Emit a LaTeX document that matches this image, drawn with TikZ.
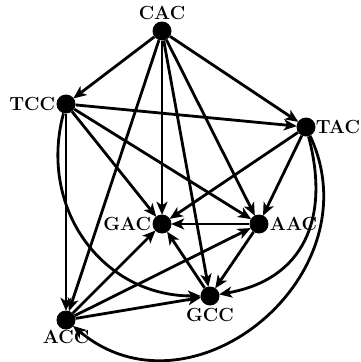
\documentclass[tikz,border=0pt]{standalone}
\usetikzlibrary{arrows.meta}
\begin{document}
\begin{tikzpicture}[x=1pt,y=-1pt,
  vtx/.style={circle,fill=black,draw=none,minimum size=19pt,inner sep=0pt},
  lbl/.style={inner sep=0pt,label distance=1pt,font=\fontsize{19}{22}\selectfont\bfseries},
  arr/.style={line width=2.8pt,-{Stealth[length=13pt,width=11pt,inset=3.5pt]},shorten >=-0.5pt}]
\useasboundingbox (0,0) rectangle (361,362);
\node[vtx,label={[lbl]above:CAC}] (CAC) at (162,31) {};
\node[vtx,label={[lbl]left:TCC}] (TCC) at (66,104) {};
\node[vtx,label={[lbl,label distance=0pt]right:TAC}] (TAC) at (306,127) {};
\node[vtx,label={[lbl]left:GAC}] (GAC) at (162,224) {};
\node[vtx,label={[lbl]right:AAC}] (AAC) at (259,224) {};
\node[vtx,label={[lbl,label distance=2pt]below:GCC}] (GCC) at (210,296) {};
\node[vtx,label={[lbl,label distance=0pt]below:ACC}] (ACC) at (66,320) {};
\draw[arr] (CAC) -- (TCC);
\draw[arr] (CAC) -- (TAC);
\draw[arr] (CAC) -- (GAC);
\draw[arr] (CAC) -- (ACC);
\draw[arr] (CAC) -- (GCC);
\draw[arr] (CAC) -- (AAC);
\draw[arr] (TCC) -- (TAC);
\draw[arr] (TCC) -- (GAC);
\draw[arr] (TCC) -- (AAC);
\draw[arr] (TCC) -- (ACC);
\draw[arr] (TAC) -- (GAC);
\draw[arr] (TAC) -- (AAC);
\draw[arr] (AAC) -- (GAC);
\draw[arr] (AAC) -- (GCC);
\draw[arr] (GCC) -- (GAC);
\draw[arr] (ACC) -- (GAC);
\draw[arr] (ACC) -- (AAC);
\draw[arr] (ACC) -- (GCC);
\draw[arr] (TCC) to[out=-105,in=180,looseness=1.1] (GCC);
\draw[arr] (TAC) to[out=-75,in=10,looseness=1.2] (GCC);
\draw[arr] (TAC) to[out=-65,in=-40,looseness=1.3] (ACC);
\end{tikzpicture}
\end{document}
